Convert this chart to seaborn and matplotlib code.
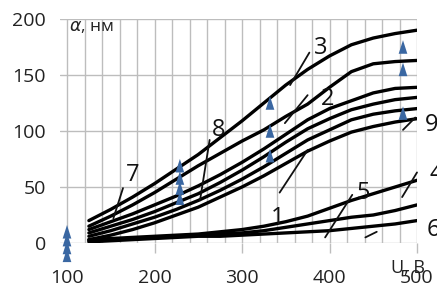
import numpy as np
import pandas as pd
import matplotlib
matplotlib.use("Agg")
import matplotlib.pyplot as plt
from matplotlib.path import Path
import seaborn as sns

# ---------------- data ----------------
u_vals = [125, 150, 175, 200, 225, 250, 275, 300, 325, 350, 375, 400, 425, 450, 475, 500]

curve_3 = [20, 30, 41, 53, 66, 79, 94, 109, 125, 141, 155, 167, 177, 183, 187, 190]
curve_2 = [15, 24, 34, 45, 57, 69, 80, 91, 101, 113, 124, 139, 153, 160, 162, 163]
curve_8 = [12, 19, 26, 34, 42, 51, 61, 72, 84, 97, 110, 120, 127, 134, 138, 139]
curve_9 = [9, 15, 21, 28, 36, 44, 54, 65, 77, 90, 102, 111, 119, 124, 128, 130]
curve_7 = [6, 11, 17, 23, 30, 38, 47, 57, 68, 80, 92, 101, 110, 115, 118, 120]
curve_1 = [3, 7, 12, 18, 25, 32, 41, 50, 60, 71, 82, 91, 99, 104, 108, 111]
curve_4 = [3, 4, 5, 6, 7, 8, 10, 12, 15, 19, 24, 31, 38, 44, 50, 56]
curve_5 = [2, 3, 4, 5, 6, 7, 8, 9, 11, 14, 17, 20, 23, 25, 29, 34]
curve_6 = [1, 2, 3, 4, 5, 6, 6, 7, 8, 9, 10, 11, 13, 15, 17, 20]

curve_names = ["3", "2", "8", "9", "7", "1", "4", "5", "6"]
curve_values = [curve_3, curve_2, curve_8, curve_9, curve_7, curve_1,
                curve_4, curve_5, curve_6]

# experimental points (triangles)
tri_u = [100, 100, 100, 100, 229, 229, 229, 229, 332, 332, 332, 484, 484, 484]
tri_a = [10, 3, -4, -11, 69, 58, 49, 40, 125, 100, 78, 175, 155, 116]

x_ticks = [100, 200, 300, 400, 500]
y_ticks = [0, 50, 100, 150, 200]

# curve labels: text position and leader line (start -> end), data coords
label_text = ["3", "2", "8", "7", "9", "4", "5", "1", "6"]
label_pos = [(390, 174), (398, 129), (273, 101), (175, 61), (517, 105),
             (522, 62), (438, 45), (341, 22), (519, 12)]
leader_from = [(377, 170), (375, 132), (263, 92), (164, 49), (498, 112),
               (500, 63), (426, 43), (343, 45), (441, 5)]
leader_to = [(355, 141), (349, 107), (252, 38), (153, 22), (484, 101),
             (483, 41), (395, 5), (375, 83), (454, 10)]

# ---------------- build table ----------------
rows = []
for name, vals in zip(curve_names, curve_values):
    for u, a in zip(u_vals, vals):
        rows.append({"U": u, "a": a, "curve": name})
df = pd.DataFrame(rows)
pts = pd.DataFrame({"U": tri_u, "a": tri_a})

# ---------------- style ----------------
sns.set_theme(style="white")
plt.rcParams["font.family"] = ["Open Sans", "DejaVu Sans"]

fig = plt.figure(figsize=(4.37, 2.91), dpi=100)
ax = fig.add_axes([60 / 437, 1 - 243 / 291, (417 - 60) / 437, (243 - 19) / 291])

grid_c = "#bdbdbd"
txt_c = "#222222"

sns.lineplot(data=df, x="U", y="a", units="curve", estimator=None,
             color="black", linewidth=2.4, sort=False, ax=ax, legend=False)

tri = Path([(-0.32, -0.5), (0.0, 0.5), (0.32, -0.5), (-0.32, -0.5)],
           [Path.MOVETO, Path.LINETO, Path.LINETO, Path.CLOSEPOLY])
sns.scatterplot(data=pts, x="U", y="a", marker=tri, s=95, color="#3a67a2",
                edgecolor="none", linewidth=0, ax=ax, clip_on=False, zorder=4,
                legend=False)

ax.set_xlim(92, 500)
ax.set_ylim(0, 200)
ax.set_xticks(x_ticks)
ax.set_xticks(np.arange(100, 501, 20), minor=True)
ax.set_yticks(y_ticks)
ax.grid(True, which="major", color=grid_c, linewidth=1.0)
ax.grid(True, which="minor", axis="x", color=grid_c, linewidth=1.0)
for sp in ax.spines.values():
    sp.set_visible(False)
ax.tick_params(axis="x", which="major", length=7, width=1.0, color=grid_c,
               pad=12, labelsize=14, labelcolor=txt_c, bottom=True)
ax.tick_params(axis="x", which="minor", length=0)
ax.tick_params(axis="y", length=0, pad=10, labelsize=14, labelcolor=txt_c)
ax.set_xlabel("")
ax.set_ylabel("")

for t, p, f, e in zip(label_text, label_pos, leader_from, leader_to):
    ax.text(p[0], p[1], t, fontsize=17, ha="center", va="center",
            color="#111111", clip_on=False)
    ax.annotate("", xy=e, xytext=f,
                arrowprops=dict(arrowstyle="-", color="#111111", lw=1.3,
                                shrinkA=0, shrinkB=0),
                annotation_clip=False)

ax.text(102, 193, r"$\alpha$, нм", fontsize=12.5, ha="left", va="center",
        color=txt_c)
ax.text(490, -22, "U, В", fontsize=13, ha="center", va="center",
        color=txt_c, clip_on=False)

fig.savefig("out.png", dpi=100)
